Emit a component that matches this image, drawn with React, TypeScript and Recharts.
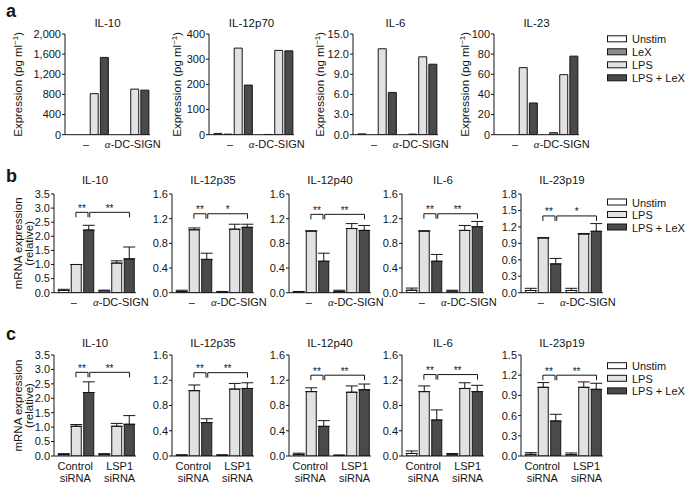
import React from 'react';
import { BarChart, Bar, XAxis, YAxis, Cell, ErrorBar, ReferenceLine } from 'recharts';

const FONT = '"Liberation Sans", Arial, Helvetica, sans-serif';
const INK = '#151515';

// ---- panel a: secreted cytokines ----
const aGroups = ['–', 'α-DC-SIGN'];
const aStims = ['Unstim', 'LeX', 'LPS', 'LPS + LeX'];
const aIL10 = [0, 0, 815, 1535, 0, 0, 905, 885];
const aIL12p70 = [5, 2, 344, 197, 0, 1, 335, 333];
const aIL6 = [0.12, 0, 12.8, 6.3, 0, 0.08, 11.6, 10.5];
const aIL23 = [0, 0, 66.6, 31.5, 0, 2, 59.6, 78];
const aTicksIL10 = [0, 400, 800, 1200, 1600, 2000];
const aTicksIL12p70 = [0, 100, 200, 300, 400];
const aTicksIL6 = [0, 3, 6, 9, 12, 15];
const aTicksIL23 = [0, 20, 40, 60, 80, 100];

// ---- panel b: mRNA, anti-DC-SIGN ----
const bGroups = ['–', 'α-DC-SIGN'];
const bcStims = ['Unstim', 'LPS', 'LPS + LeX'];
const bIL10 = [0.08, 1.0, 2.22, 0.06, 1.05, 1.2];
const bIL10Err = [0.04, 0, 0.17, 0.03, 0.08, 0.42];
const bIL12p35 = [0.02, 1.02, 0.54, 0.01, 1.03, 1.06];
const bIL12p35Err = [0.02, 0.03, 0.1, 0.01, 0.08, 0.05];
const bIL12p40 = [0.01, 1.0, 0.51, 0.02, 1.04, 1.01];
const bIL12p40Err = [0.01, 0, 0.13, 0.02, 0.08, 0.08];
const bIL6 = [0.04, 1.0, 0.51, 0.025, 1.01, 1.07];
const bIL6Err = [0.035, 0, 0.11, 0.015, 0.08, 0.085];
const bIL23p19 = [0.04, 1.0, 0.525, 0.04, 1.07, 1.12];
const bIL23p19Err = [0.04, 0, 0.1, 0.04, 0.01, 0.14];
const bStars = [['**', '**'], ['**', '*'], ['**', '**'], ['**', '**'], ['**', '*']];
const bBracketY = [2.85, 1.28, 1.27, 1.28, 1.4];

// ---- panel c: mRNA, siRNA ----
const cGroups = ['Control\nsiRNA', 'LSP1\nsiRNA'];
const cIL10 = [0.06, 1.03, 2.2, 0.06, 1.03, 1.1];
const cIL10Err = [0.02, 0.06, 0.37, 0.02, 0.1, 0.3];
const cIL12p35 = [0.01, 1.035, 0.53, 0.01, 1.06, 1.07];
const cIL12p35Err = [0.01, 0.09, 0.06, 0.01, 0.09, 0.09];
const cIL12p40 = [0.025, 1.02, 0.47, 0.01, 1.01, 1.05];
const cIL12p40Err = [0.02, 0.06, 0.09, 0.005, 0.1, 0.09];
const cIL6 = [0.04, 1.02, 0.57, 0.02, 1.07, 1.02];
const cIL6Err = [0.04, 0.09, 0.16, 0.02, 0.09, 0.1];
const cIL23p19 = [0.025, 1.02, 0.52, 0.02, 1.02, 0.99];
const cIL23p19Err = [0.025, 0.07, 0.1, 0.025, 0.08, 0.09];
const cStars = [['**', '**'], ['**', '**'], ['**', '**'], ['**', '**'], ['**', '**']];
const cBracketY = [2.9, 1.32, 1.28, 1.29, 1.2];

const ticks35 = [0, 0.5, 1, 1.5, 2, 2.5, 3, 3.5];
const ticks16 = [0, 0.4, 0.8, 1.2, 1.6];
const ticks18 = [0, 0.3, 0.6, 0.9, 1.2, 1.5, 1.8];
const ticks15 = [0, 0.3, 0.6, 0.9, 1.2, 1.5];

const mrnaTitles = ['IL-10', 'IL-12p35', 'IL-12p40', 'IL-6', 'IL-23p19'];

const fills: Record<string, string> = {
  Unstim: '#ffffff',
  LeX: '#8b8b8b',
  LPS: '#e2e2e2',
  'LPS + LeX': '#4a4a4a',
};

// chart frame around each plot area
const LEFT = 62;
const RIGHT = 34;
const TOP = 6;
const BOTTOM = 34;

type Row = { x: number; v: number; err: [number, number]; stim: string };
type Bracket = { x1: number; x2: number; y: number; stars: string };
type Spec = {
  title: string;
  axisX: number;
  top: number;
  plotH: number;
  plotW: number;
  rows: Row[];
  ticks: number[];
  fmt: (v: number) => string;
  xDomain: [number, number];
  labelAt: number[];
  groups: string[];
  barSize: number;
  withErr: boolean;
  yTitle?: (axisX: number, cy: number) => React.ReactNode;
  brackets: Bracket[];
};

const makeRows = (values: number[], errs: number[] | null, stims: string[], step: number): Row[] =>
  values.map((v, i) => {
    const g = Math.floor(i / stims.length);
    const t = i % stims.length;
    return { x: g * step + t, v, err: [0, errs ? errs[i] : 0], stim: stims[t] };
  });

const BC_STEP = 3.24;
const makeBrackets = (y: number, stars: string[]): Bracket[] => [
  { x1: 0.95, x2: 1.92, y, stars: stars[0] },
  { x1: 2.06, x2: BC_STEP + 2, y, stars: stars[1] },
];

const thousands = (v: number) =>
  v >= 1000 ? `${Math.floor(v / 1000)},${String(v % 1000).padStart(3, '0')}` : String(v);

const unitTitle = (unit: string, dx: number) => (ax: number, cy: number) => {
  const cx = ax + dx;
  return (
    <text x={cx} y={cy} transform={`rotate(-90 ${cx} ${cy})`} textAnchor="middle"
      fontSize={11.5} fontFamily={FONT} fill={INK}>
      Expression ({unit} ml<tspan dy={-4} fontSize={8}>−1</tspan><tspan dy={4}>)</tspan>
    </text>
  );
};

const mrnaTitle = (ax: number, cy: number) => {
  const x1 = ax - 32.5;
  const x2 = ax - 21.5;
  return (
    <g fontSize={11.5} fontFamily={FONT} fill={INK}>
      <text x={x1} y={cy} transform={`rotate(-90 ${x1} ${cy})`} textAnchor="middle">mRNA expression</text>
      <text x={x2} y={cy} transform={`rotate(-90 ${x2} ${cy})`} textAnchor="middle">(relative)</text>
    </g>
  );
};

const aAxisX = [65, 209, 353, 494];
const aInfo = [
  { title: 'IL-10', values: aIL10, ticks: aTicksIL10, fmt: thousands, unit: 'pg', dx: -43 },
  { title: 'IL-12p70', values: aIL12p70, ticks: aTicksIL12p70, fmt: String, unit: 'pg', dx: -28 },
  { title: 'IL-6', values: aIL6, ticks: aTicksIL6, fmt: (v: number) => v.toFixed(1), unit: 'ng', dx: -29 },
  { title: 'IL-23', values: aIL23, ticks: aTicksIL23, fmt: String, unit: 'pg', dx: -25 },
];
const aSpecs: Spec[] = aInfo.map((d, i) => ({
  title: d.title,
  axisX: aAxisX[i],
  top: 34.3,
  plotH: 100.7,
  plotW: 85,
  rows: makeRows(d.values, null, aStims, 4),
  ticks: d.ticks,
  fmt: d.fmt,
  xDomain: [-0.89, 7.5],
  labelAt: [1.2, 5.8],
  groups: aGroups,
  barSize: 8,
  withErr: false,
  yTitle: unitTitle(d.unit, d.dx),
  brackets: [],
}));

const bcAxisX = [54, 172, 289, 402, 521];
const fmt1 = (v: number) => v.toFixed(1);
const mrnaSpecs = (
  top: number, plotH: number, groups: string[], labelAt: number[],
  means: number[][], errs: number[][], tickSets: number[][], bY: number[], stars: string[][],
): Spec[] =>
  means.map((m, i) => ({
    title: mrnaTitles[i],
    axisX: bcAxisX[i],
    top,
    plotH,
    plotW: 82,
    rows: makeRows(m, errs[i], bcStims, BC_STEP),
    ticks: tickSets[i],
    fmt: fmt1,
    xDomain: [-0.8, 5.76],
    labelAt,
    groups,
    barSize: 10,
    withErr: true,
    yTitle: i === 0 ? mrnaTitle : undefined,
    brackets: makeBrackets(bY[i], stars[i]),
  }));

const bSpecs = mrnaSpecs(
  194, 98.7, bGroups, [0.78, 4.55],
  [bIL10, bIL12p35, bIL12p40, bIL6, bIL23p19],
  [bIL10Err, bIL12p35Err, bIL12p40Err, bIL6Err, bIL23p19Err],
  [ticks35, ticks16, ticks16, ticks16, ticks18], bBracketY, bStars,
);
const cSpecs = mrnaSpecs(
  355, 101, cGroups, [0.9, 4.45],
  [cIL10, cIL12p35, cIL12p40, cIL6, cIL23p19],
  [cIL10Err, cIL12p35Err, cIL12p40Err, cIL6Err, cIL23p19Err],
  [ticks35, ticks16, ticks16, ticks16, ticks15], cBracketY, cStars,
);

const lineText = (l: string) =>
  l.startsWith('α') ? (
    <>
      <tspan fontFamily='"Liberation Serif", serif' fontStyle="italic">α</tspan>
      {l.slice(1)}
    </>
  ) : l;

const MiniChart = ({ s }: { s: Spec }) => {
  const W = LEFT + s.plotW + RIGHT;
  const H = TOP + s.plotH + BOTTOM;
  const yMax = s.ticks[s.ticks.length - 1];
  const drop = (5 * yMax) / s.plotH;
  const cy = TOP + s.plotH / 2;
  const groupTick = (p: any) => {
    const idx = s.labelAt.findIndex((c) => Math.abs(c - p.payload.value) < 1e-6);
    const lines = (s.groups[idx] ?? '').split('\n');
    return (
      <text x={p.x} y={p.y} textAnchor="middle" fontSize={11} fontFamily={FONT} fill={INK}>
        {lines.map((l, i) => (
          <tspan key={i} x={p.x} dy={i === 0 ? '0.71em' : 12.5}>{lineText(l)}</tspan>
        ))}
      </text>
    );
  };
  return (
    <div style={{ position: 'absolute', left: s.axisX - LEFT, top: s.top - TOP, width: W, height: H }}>
      <BarChart width={W} height={H} data={s.rows}
        margin={{ top: TOP, right: RIGHT, bottom: 0, left: 0 }}>
        <XAxis type="number" dataKey="x" domain={s.xDomain} ticks={s.labelAt} interval={0}
          allowDataOverflow height={BOTTOM} tickLine={false} tickSize={0} tickMargin={6}
          axisLine={{ stroke: INK }} tick={groupTick} />
        <YAxis type="number" domain={[0, yMax]} ticks={s.ticks} interval={0} allowDataOverflow
          width={LEFT} tickSize={3} tickMargin={1} tickFormatter={s.fmt}
          axisLine={{ stroke: INK }} tickLine={{ stroke: INK }}
          tick={{ fontSize: 11, fill: INK, fontFamily: FONT }}
          label={s.yTitle ? () => s.yTitle!(LEFT, cy) : undefined} />
        <Bar dataKey="v" barSize={s.barSize} isAnimationActive={false} stroke={INK} strokeWidth={1}>
          {s.rows.map((r, i) => (
            <Cell key={i} fill={fills[r.stim]} />
          ))}
          {s.withErr && (
            <ErrorBar dataKey="err" direction="y" width={6} stroke={INK} strokeWidth={1} />
          )}
        </Bar>
        {s.brackets.flatMap((b, i) => [
          <ReferenceLine key={`h${i}`} ifOverflow="visible" stroke={INK} strokeWidth={1}
            segment={[{ x: b.x1, y: b.y }, { x: b.x2, y: b.y }]}
            label={{ value: b.stars, position: 'top', offset: 0.5, fontSize: 10, fill: INK, fontFamily: FONT }} />,
          <ReferenceLine key={`l${i}`} ifOverflow="visible" stroke={INK} strokeWidth={1}
            segment={[{ x: b.x1, y: b.y }, { x: b.x1, y: b.y - drop }]} />,
          <ReferenceLine key={`r${i}`} ifOverflow="visible" stroke={INK} strokeWidth={1}
            segment={[{ x: b.x2, y: b.y }, { x: b.x2, y: b.y - drop }]} />,
        ])}
      </BarChart>
    </div>
  );
};

const legendRows = [
  { items: aStims, x: 607, y0: 38.8, dy: 13 },
  { items: bcStims, x: 607, y0: 202, dy: 12.5 },
  { items: bcStims, x: 607, y0: 365.7, dy: 12.6 },
];

const titleRows = [
  { specs: aSpecs, y: 23.3 },
  { specs: bSpecs, y: 180 },
  { specs: cSpecs, y: 343.3 },
];

const Overlay = () => (
  <svg width={685} height={486} style={{ position: 'absolute', left: 0, top: 0, pointerEvents: 'none' }}>
    <g fontFamily={FONT} fill={INK} fontWeight="bold" fontSize={18}>
      <text x={6} y={17}>a</text>
      <text x={6} y={182}>b</text>
      <text x={6} y={340}>c</text>
    </g>
    {titleRows.map((r, ri) =>
      r.specs.map((s, i) => (
        <text key={`t${ri}-${i}`} x={s.axisX + s.plotW / 2} y={r.y} textAnchor="middle"
          dominantBaseline="central" fontSize={11.5} fontFamily={FONT} fill={INK}>
          {s.title}
        </text>
      )),
    )}
    {legendRows.map((lg, li) =>
      lg.items.map((name, i) => {
        const y = lg.y0 + i * lg.dy;
        return (
          <g key={`l${li}-${i}`}>
            <rect x={lg.x + 0.5} y={y - 3} width={19} height={6} fill={fills[name]} stroke={INK} strokeWidth={1} />
            <text x={lg.x + 25} y={y + 0.5} dominantBaseline="central" fontSize={11} fontFamily={FONT} fill={INK}>
              {name}
            </text>
          </g>
        );
      }),
    )}
  </svg>
);

export default function App() {
  return (
    <div style={{ position: 'absolute', left: 0, top: 0, width: 685, height: 486, background: '#fff', overflow: 'hidden' }}>
      {[...aSpecs, ...bSpecs, ...cSpecs].map((s, i) => (
        <MiniChart key={i} s={s} />
      ))}
      <Overlay />
    </div>
  );
}
